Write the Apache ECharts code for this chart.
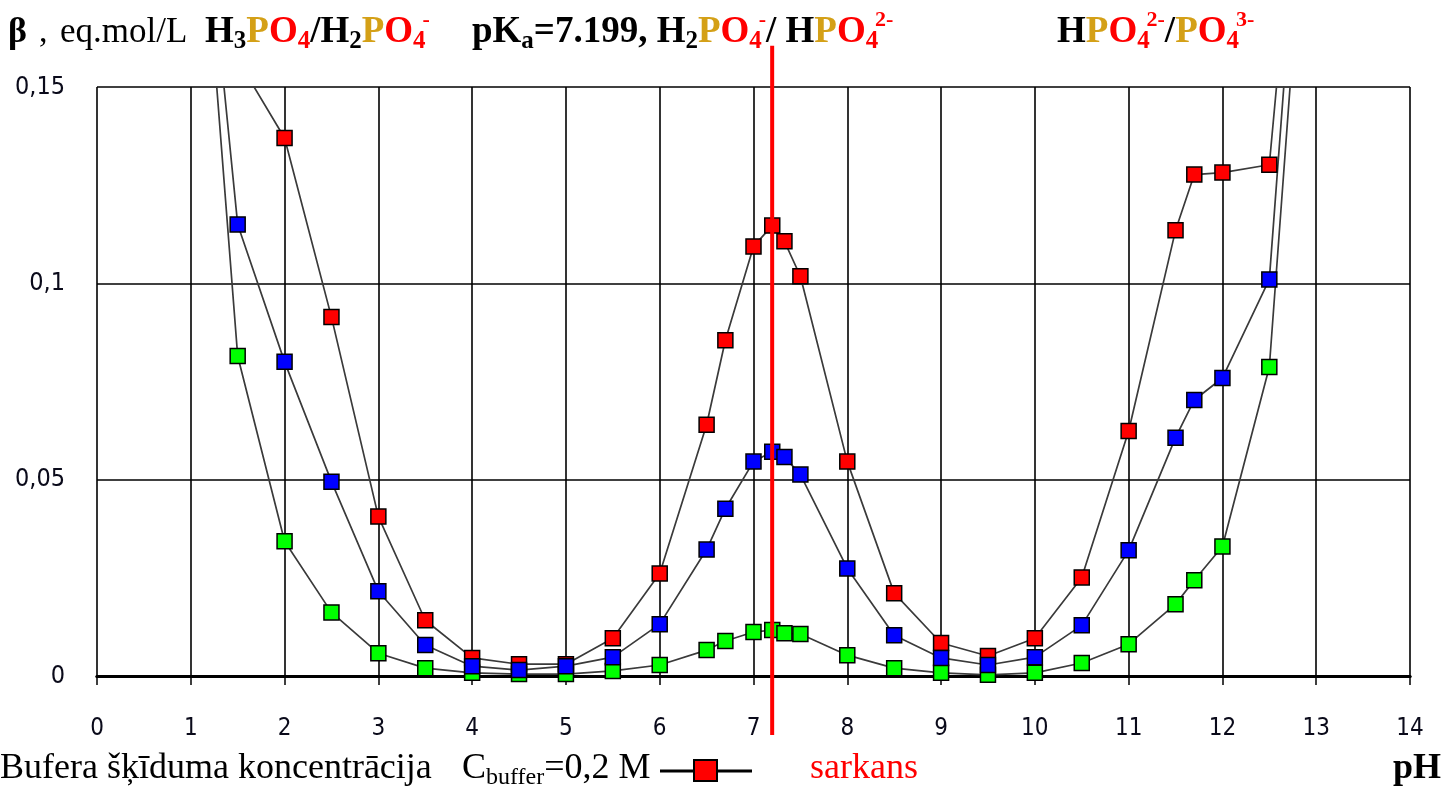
<!DOCTYPE html>
<html>
<head>
<meta charset="utf-8">
<script src="https://cdn.jsdelivr.net/npm/echarts@6/dist/echarts.min.js"></script>
<style>
html,body{margin:0;padding:0;background:#fff;}
#c{width:1444px;height:789px;}
</style>
</head>
<body>
<div id="c"></div>
<script>
// ---- data ----
const pH = [1, 1.5, 2, 2.5, 3, 3.5, 4, 4.5, 5, 5.5, 6, 6.5, 6.7, 7, 7.2, 7.33, 7.5, 8, 8.5, 9, 9.5, 10, 10.5, 11, 11.5, 11.7, 12, 12.5, 13];
const betaRed = [0.26, 0.157, 0.137, 0.0914, 0.0406, 0.0142, 0.0046, 0.003, 0.003, 0.0096, 0.0261, 0.064, 0.0855, 0.1094, 0.1147, 0.1107, 0.1018, 0.0546, 0.0211, 0.0084, 0.0051, 0.0096, 0.0251, 0.0624, 0.1135, 0.1277, 0.1282, 0.1302, 0.26];
const betaBlue = [0.235, 0.115, 0.080, 0.0495, 0.0216, 0.0079, 0.0025, 0.0015, 0.0025, 0.0048, 0.0132, 0.0322, 0.0426, 0.0546, 0.0571, 0.0558, 0.0513, 0.0274, 0.0104, 0.0046, 0.0028, 0.0048, 0.0129, 0.032, 0.0607, 0.0703, 0.0759, 0.101, 0.26];
const betaGreen = [0.235, 0.0815, 0.0343, 0.0162, 0.0058, 0.002, 0.0008, 0.0005, 0.0005, 0.0013, 0.0028, 0.0066, 0.0089, 0.0112, 0.0117, 0.0109, 0.0107, 0.0053, 0.002, 0.0008, 0.0003, 0.0008, 0.0033, 0.0081, 0.0183, 0.0244, 0.033, 0.0787, 0.24];
const pKa = 7.199;
const xTicks = {min: 0, max: 14, interval: 1};
const yTicks = {min: 0, max: 0.15, interval: 0.05};

const GOLD = '#d4a017', RED = '#ff0000', BLK = '#000000';
const SERIF = '"Liberation Serif","Times New Roman",serif';
const AXF = '"Liberation Sans Narrow","DejaVu Sans Condensed",sans-serif';

const chart = echarts.init(document.getElementById('c'), null, {renderer: 'canvas'});

function mkSeries(name, vals, color) {
  return {
    name, type: 'line', data: pH.map((x, i) => [x, vals[i]]),
    symbol: 'rect', symbolSize: 15, showAllSymbol: true, clip: true,
    lineStyle: {color: '#3a3a3a', width: 1.7},
    itemStyle: {color: color, borderColor: '#000', borderWidth: 1.5},
    emphasis: {disabled: true}, animation: false
  };
}

chart.setOption({
  animation: false,
  grid: {left: 97, right: 34, top: 87, bottom: 113, show: false},
  xAxis: [{
    type: 'value', min: xTicks.min, max: xTicks.max, interval: xTicks.interval,
    axisLine: {show: true, onZero: false, lineStyle: {color: '#000', width: 3}},
    axisTick: {show: true, length: 9, lineStyle: {color: '#000', width: 1.5}},
    splitLine: {show: true, lineStyle: {color: '#000', width: 1.6}},
    axisLabel: {margin: 41, fontFamily: AXF, fontSize: 24, color: '#0a0a1a'}
  }, {
    type: 'value', position: 'top', min: xTicks.min, max: xTicks.max,
    axisLine: {show: true, lineStyle: {color: '#000', width: 3}},
    axisTick: {show: false}, axisLabel: {show: false}, splitLine: {show: false}
  }],
  yAxis: {
    type: 'value', min: yTicks.min, max: yTicks.max, interval: yTicks.interval,
    axisLine: {show: false}, axisTick: {show: false},
    splitLine: {show: true, lineStyle: {color: '#000', width: 1.6}},
    axisLabel: {
      margin: 32, fontFamily: AXF, fontSize: 25, color: '#0a0a1a',
      formatter: v => (Math.abs(v) < 1e-9 ? '0' : String(+v.toFixed(3)).replace('.', ','))
    }
  },
  series: [
    mkSeries('C=0,2 M', betaRed, '#ff0000'),
    mkSeries('C=0,02 M', betaGreen, '#00ff00'),
    mkSeries('C=0,1 M', betaBlue, '#0000ff')
  ]
});

// ---- text helpers ----
const mctx = document.createElement('canvas').getContext('2d');
function fontStr(size, bold) { return (bold ? 'bold ' : '') + size + 'px ' + SERIF; }
function meas(t, size, bold) { mctx.font = fontStr(size, bold); return mctx.measureText(t).width; }
const ASC = 0.82; // baseline offset from top for top-aligned text

function txt(t, x, baseline, size, bold, color) {
  return {
    type: 'text', silent: true, x: x, y: baseline - ASC * size,
    style: {text: t, font: fontStr(size, bold), fill: color || BLK, verticalAlign: 'top', align: 'left'}
  };
}

// segments: {t, c, b, k: 'sub'|'sup'|undefined}
function richLine(x0, baseline, segs, base, bold) {
  const els = [];
  let x = x0, lastSubStart = null, lastSubW = 0;
  segs.forEach(s => {
    const isB = s.b !== undefined ? s.b : bold;
    let size = base, y = baseline, sx = x;
    if (s.k === 'sub') { size = Math.round(base * 0.67); y = baseline + base * 0.15; }
    if (s.k === 'sup') {
      size = Math.round(base * 0.6); y = baseline - base * 0.44;
      if (lastSubStart !== null) sx = lastSubStart + lastSubW * 0.75;
    }
    const w = meas(s.t, size, isB);
    els.push(txt(s.t, sx, y, size, isB, s.c));
    if (s.k === 'sub') { lastSubStart = sx; lastSubW = w; } else { lastSubStart = null; }
    x = sx + w;
  });
  return els;
}

function build() {
  const g = [];
  const TB = 44, B = 37;
  g.push(txt('β', 8, TB, 36, true));
  g.push(txt(',', 39, TB, 34, false));
  g.push(txt('eq.mol/L', 60, TB, 35, false));
  g.push(...richLine(205, TB, [
    {t: 'H'}, {t: '3', k: 'sub'}, {t: 'P', c: GOLD}, {t: 'O', c: RED}, {t: '4', k: 'sub', c: RED},
    {t: '/H'}, {t: '2', k: 'sub'}, {t: 'P', c: GOLD}, {t: 'O', c: RED}, {t: '4', k: 'sub', c: RED}, {t: '-', k: 'sup', c: RED}
  ], B, true));
  g.push(...richLine(472, TB, [
    {t: 'pK'}, {t: 'a', k: 'sub'}, {t: '=7.199, H'}, {t: '2', k: 'sub'}, {t: 'P', c: GOLD}, {t: 'O', c: RED},
    {t: '4', k: 'sub', c: RED}, {t: '-', k: 'sup', c: RED}, {t: '/ H'}, {t: 'P', c: GOLD}, {t: 'O', c: RED},
    {t: '4', k: 'sub', c: RED}, {t: '2-', k: 'sup', c: RED}
  ], B, true));
  g.push(...richLine(1057, TB, [
    {t: 'H'}, {t: 'P', c: GOLD}, {t: 'O', c: RED}, {t: '4', k: 'sub', c: RED}, {t: '2-', k: 'sup', c: RED},
    {t: '/'}, {t: 'P', c: GOLD}, {t: 'O', c: RED}, {t: '4', k: 'sub', c: RED}, {t: '3-', k: 'sup', c: RED}
  ], B, true));

  const BB = 780, BF = 36;
  g.push(txt('Bufera šķīduma koncentrācija', 0, BB, BF, false));
  g.push(...richLine(462, BB, [{t: 'C'}, {t: 'buffer', k: 'sub'}, {t: '=0,2 M'}], BF, false));
  g.push(txt('sarkans', 810, BB, BF, false, RED));
  const pHw = meas('pH', BF, true);
  g.push(txt('pH', 1441 - pHw, BB, BF, true));

  // legend sample for the red series
  g.push({type: 'line', silent: true, shape: {x1: 660, y1: 771, x2: 752, y2: 771}, style: {stroke: '#000', lineWidth: 3}});
  g.push({type: 'rect', silent: true, shape: {x: 694, y: 760, width: 23, height: 21}, style: {fill: RED, stroke: '#000', lineWidth: 2}});

  // pKa vertical line
  const px = chart.convertToPixel({xAxisIndex: 0}, pKa);
  const yTop = chart.convertToPixel({yAxisIndex: 0}, 0.1605);
  const yBot = chart.convertToPixel({yAxisIndex: 0}, -0.015);
  g.push({type: 'line', silent: true, z: 100, shape: {x1: px, y1: yTop, x2: px, y2: yBot}, style: {stroke: RED, lineWidth: 4}});
  chart.setOption({graphic: g});
}
build();
</script>
</body>
</html>
